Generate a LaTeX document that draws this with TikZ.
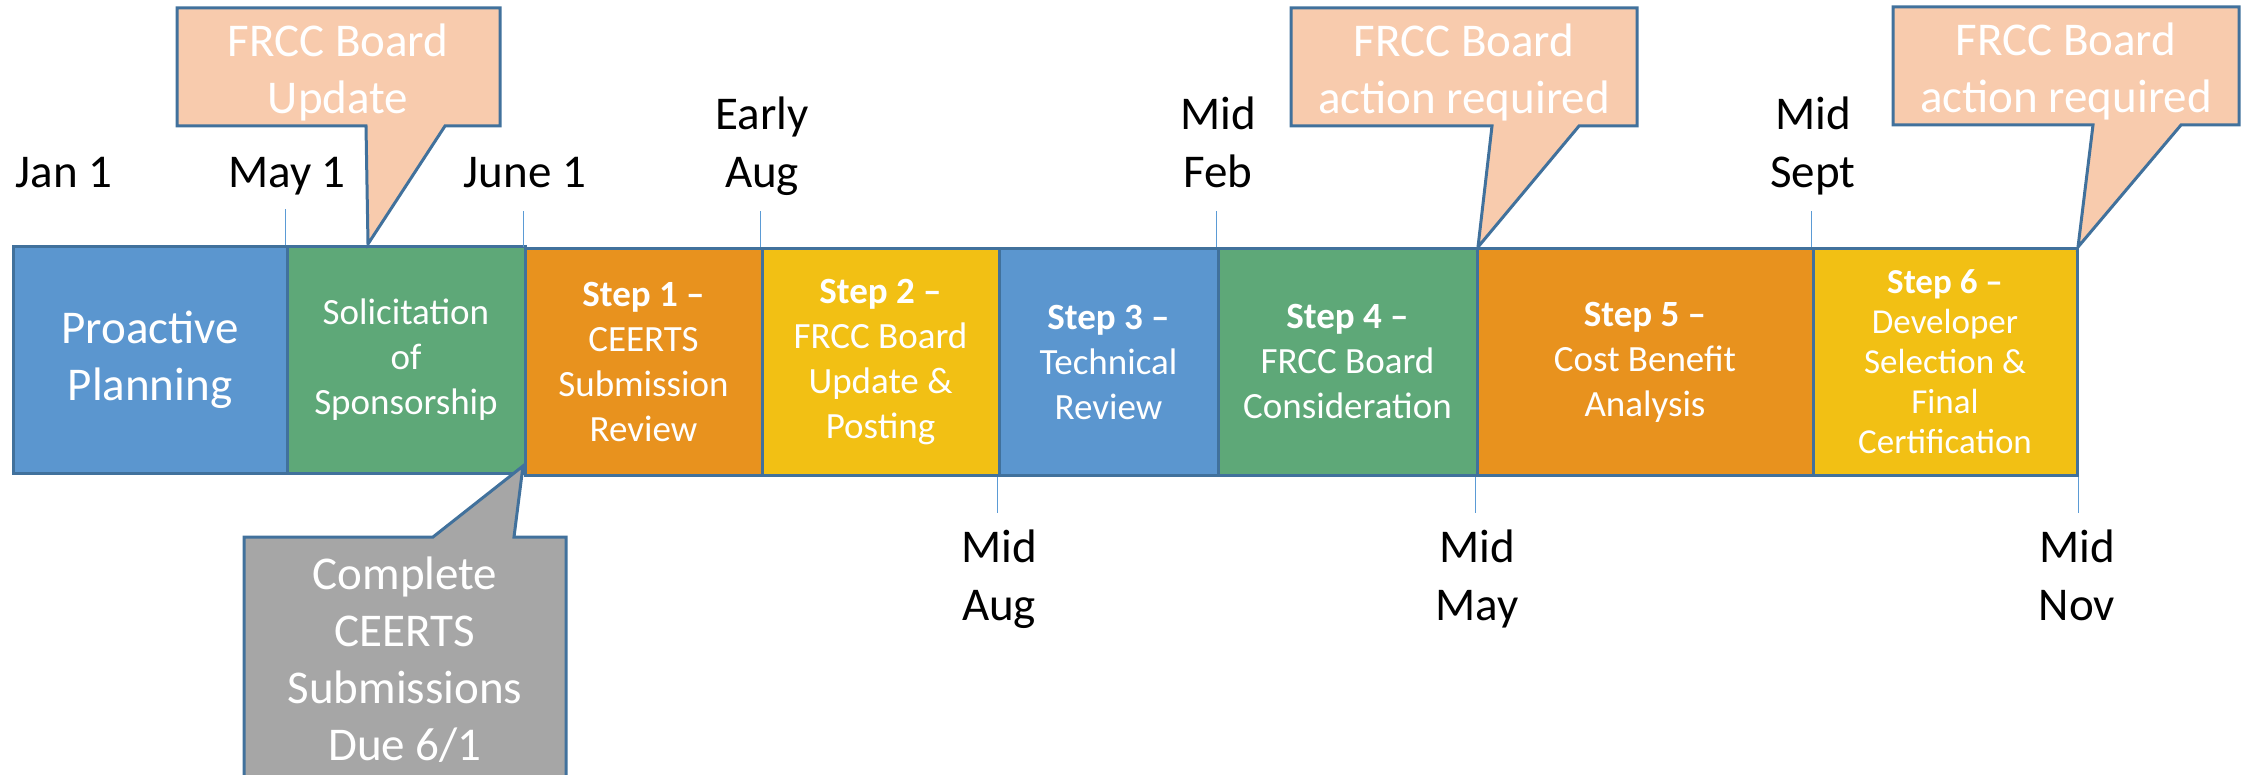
\documentclass[tikz,border=0pt]{standalone}
\usepackage{fontspec}
\setmainfont{Carlito}

\definecolor{edge}{HTML}{41719C}
\definecolor{tickblue}{HTML}{5B9BD5}
\definecolor{planblue}{HTML}{5B96CF}
\definecolor{solgreen}{HTML}{5EA878}
\definecolor{steporange}{HTML}{E8921E}
\definecolor{stepgold}{HTML}{F2C014}
\definecolor{peach}{HTML}{F8CBAD}
\definecolor{duegray}{HTML}{A6A6A6}

\tikzset{
  stage/.style={draw=edge, line width=3pt, minimum height=226pt, inner sep=0pt,
    text=white, align=center, font=\fontsize{37}{45}\selectfont},
  datelbl/.style={anchor=base, align=center, font=\fontsize{47}{58}\selectfont},
  tickline/.style={draw=tickblue, line width=1.5pt},
  callout/.style={draw=edge, line width=3pt, line join=miter},
  calltext/.style={text=white, align=center, font=\fontsize{47}{57}\selectfont},
}

\begin{document}
\begin{tikzpicture}[x=1pt, y=-1pt]
\useasboundingbox (0,0) rectangle (2248,775);
\clip (0,0) rectangle (2248,775);

% timeline stages
\node[stage, fill=planblue, minimum width=274pt, font=\fontsize{47}{57}\selectfont] (pp) at (150,360) {Proactive\\Planning};
\node[stage, fill=solgreen, minimum width=238pt] (sol) at (406,360) {Solicitation\\of\\Sponsorship};
\node[stage, fill=steporange, minimum width=237pt] (s1) at (643.5,362) {\textbf{Step 1 --}\\CEERTS\\Submission\\Review};
\node[stage, fill=stepgold, minimum width=237pt] (s2) at (880.5,362) {\textbf{Step 2 --}\\FRCC Board\\Update \&\\Posting};
\node[stage, fill=planblue, minimum width=219pt] (s3) at (1108.5,362) {\textbf{Step 3 --}\\Technical\\Review};
\node[stage, fill=solgreen, minimum width=259pt] (s4) at (1347.5,362) {\textbf{Step 4 --}\\FRCC Board\\Consideration};
\node[stage, fill=steporange, minimum width=336pt] (s5) at (1645,362) {\textbf{Step 5 --}\\Cost Benefit\\Analysis};
\node[stage, fill=stepgold, minimum width=264pt, font=\fontsize{35}{40}\selectfont] (s6) at (1945,362) {\textbf{Step 6 --}\\Developer\\Selection \&\\Final\\Certification};

% date ticks
\draw[tickline] (sol.north west) -- ++(0,-36);
\draw[tickline] (s1.north west) -- ++(0,-36);
\draw[tickline] (s2.north west) -- ++(0,-36);
\draw[tickline] (s4.north west) -- ++(0,-36);
\draw[tickline] (s6.north west) -- ++(0,-36);
\draw[tickline] (s3.south west) -- ++(0,36);
\draw[tickline] (s5.south west) -- ++(0,36);
\draw[tickline] (s6.south east) -- ++(0,36);

% dates
\node[datelbl] (jan) at (64,188) {Jan 1};
\node[datelbl] (may) at (287,188) {May 1};
\node[datelbl] (june) at (525,188) {June 1};
\node[datelbl] (eaug) at (762,188) {Early\\Aug};
\node[datelbl] (mfeb) at (1218,188) {Mid\\Feb};
\node[datelbl] (msept) at (1813,188) {Mid\\Sept};
\node[datelbl] (maug) at (999,620) {Mid\\Aug};
\node[datelbl] (mmay) at (1477,620) {Mid\\May};
\node[datelbl] (mnov) at (2077,620) {Mid\\Nov};

% callouts
\draw[callout, fill=peach] (177,8) -- (500,8) -- (500,126) -- (445,126) -- (368,244) -- (366,126) -- (177,126) -- cycle;
\node[calltext] (upd) at (338,72) {FRCC Board\\Update};

\draw[callout, fill=duegray] (244,537) -- (433,537) -- (523,466) -- (514,537) -- (566,537) -- (566,800) -- (244,800) -- cycle;
\node[calltext] (due) at (405,660) {Complete\\CEERTS\\Submissions\\Due 6/1};

\draw[callout, fill=peach] (1291,8) -- (1637,8) -- (1637,126) -- (1579,126) -- (1478,247) -- (1492,126) -- (1291,126) -- cycle;
\node[calltext] (act1) at (1464,72) {FRCC Board\\action required};

\draw[callout, fill=peach] (1893,7) -- (2239,7) -- (2239,125) -- (2181,125) -- (2078,247) -- (2093,125) -- (1893,125) -- cycle;
\node[calltext] (act2) at (2066,71) {FRCC Board\\action required};
\end{tikzpicture}
\end{document}
